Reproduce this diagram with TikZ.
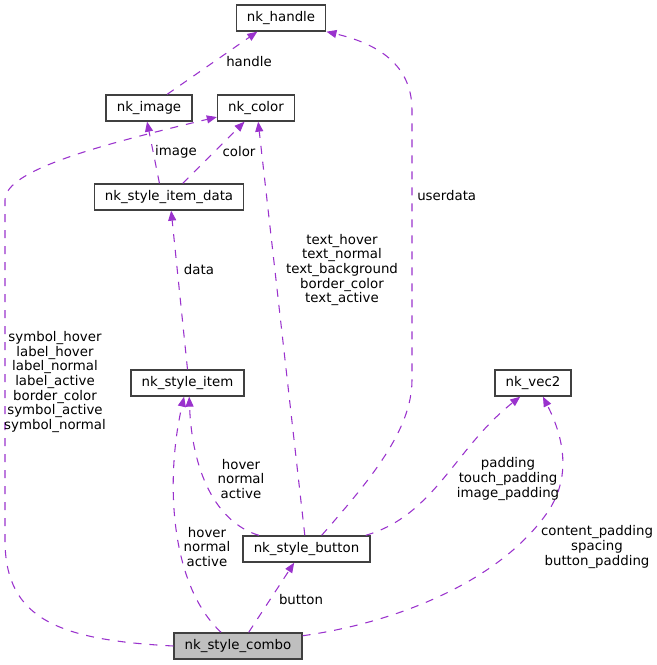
\documentclass[tikz,border=0pt]{standalone}
\usepackage{fontspec}
\setmainfont{DejaVu Sans}
\usetikzlibrary{arrows.meta}
\usepackage{xcolor}
\definecolor{edgeviolet}{RGB}{154,50,205}
\definecolor{boxgray}{RGB}{64,64,64}
\definecolor{combogray}{RGB}{191,191,191}

\tikzset{
  cls/.style={draw=boxgray, line width=1pt, fill=white, minimum height=19.5pt,
    inner xsep=8pt, inner ysep=0pt, font=\fontsize{10}{11}\selectfont},
  member/.style={color=edgeviolet, line width=0.8pt, dash pattern=on 6pt off 6pt,
    -{Triangle[length=7.5pt,width=6pt]}},
  lbl/.style={align=center, inner sep=0.75pt, font=\fontsize{10}{11}\selectfont},
}

\begin{document}
\begin{tikzpicture}[x=0.75pt,y=0.75pt,yscale=-1,xscale=1]
\useasboundingbox (0,0) rectangle (657,665);

%Classes
\node (handle) at (281,18) [cls] {nk\_handle};
\node (image) at (149,108) [cls] {nk\_image};
\node (color) at (256,108) [cls] {nk\_color};
\node (itemdata) at (169,197) [cls] {nk\_style\_item\_data};
\node (item) at (187.5,383) [cls] {nk\_style\_item};
\node (vec2) at (533,383) [cls] {nk\_vec2};
\node (button) at (306.5,549) [cls] {nk\_style\_button};
\node (combo) at (238,646) [cls, fill=combogray] {nk\_style\_combo};

%Straight Lines
\draw [member] (image.37) -- (handle.210);
\draw [member] (itemdata.125) -- (image.262);
\draw [member] (itemdata.45) -- (color.230);
\draw [member] (item.90) -- (itemdata.279);
\draw [member] (button.97) -- (color.279);
\draw [member] (combo.52) -- (button.228);

%Curves
\draw [member] (button.42) .. controls (370,480) and (412,430) .. (412,380) -- (412,110) .. controls (412,60) and (370,42) .. (handle.south east);
\draw [member] (button.164) .. controls (215,522) and (192,470) .. (item.277);
\draw [member] (button.13) .. controls (435,515) and (455,448) .. (vec2.227);
\draw [member] (combo.141) .. controls (170,585) and (165,480) .. (item.256);
\draw [member] (combo.west) .. controls (60,640) and (5,620) .. (5,540) -- (5,200) .. controls (5,170) and (100,145) .. (color.193);
\draw [member] (combo.9) .. controls (400,622) and (500,580) .. (547,513) .. controls (575,473) and (560,430) .. (vec2.306);

% Text Node
\node (lhandle) at (249,62) [lbl] {handle};
% Text Node
\node (limage) at (176,152) [lbl] {image};
% Text Node
\node (lcolor) at (239,152) [lbl] {color};
% Text Node
\node (ldata) at (199,270) [lbl] {data};
% Text Node
\node (ltext) at (342,270) [lbl] {text\_hover\\text\_normal\\text\_background\\border\_color\\text\_active};
% Text Node
\node (luserdata) at (416,196) [lbl, anchor=west] {userdata};
% Text Node
\node (lsymbol) at (55,382) [lbl] {symbol\_hover\\label\_hover\\label\_normal\\label\_active\\border\_color\\symbol\_active\\symbol\_normal};
% Text Node
\node (lbtnstate) at (241,479) [lbl] {hover\\normal\\active};
% Text Node
\node (lpadding) at (508,479) [lbl] {padding\\touch\_padding\\image\_padding};
% Text Node
\node (lcombostate) at (207,547) [lbl] {hover\\normal\\active};
% Text Node
\node (lcontent) at (597,547) [lbl] {content\_padding\\spacing\\button\_padding};
% Text Node
\node (lbutton) at (301,600) [lbl] {button};

\end{tikzpicture}
\end{document}
